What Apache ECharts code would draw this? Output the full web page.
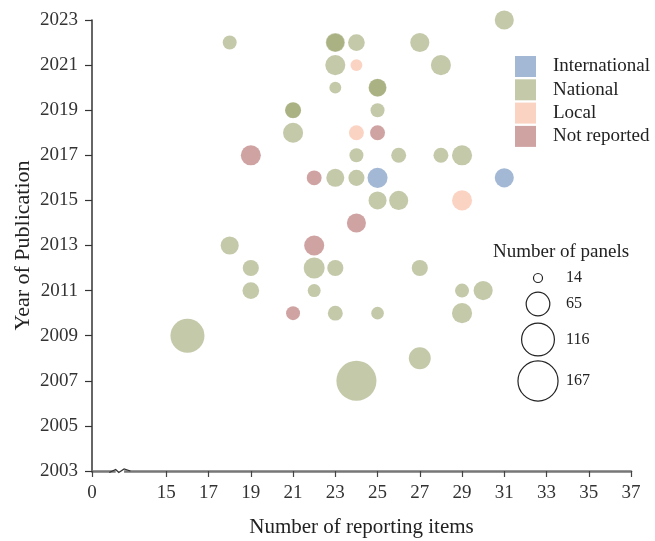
<!DOCTYPE html>
<html>
<head>
<meta charset="utf-8">
<script src="https://cdn.jsdelivr.net/npm/echarts@6/dist/echarts.min.js"></script>
<style>
html,body{margin:0;padding:0;background:#fff;}
#chart{width:655px;height:541px;}
</style>
</head>
<body>
<div id="chart"></div>
<script>
// [reporting items, year, number of panels]
const internationalData = [[25,2016,49],[31,2016,45]];
const nationalData = [
  [31,2023,45],[18,2022,27],[23,2022,45],[23,2022,40],[24,2022,36],[27,2022,45],
  [23,2021,49],[28,2021,49],[23,2020,21],[25,2020,41],[25,2020,38],
  [21,2019,34],[21,2019,32],[25,2019,27],[21,2018,49],
  [24,2017,27],[26,2017,30],[28,2017,30],[29,2017,49],
  [23,2016,41],[24,2016,34],[25,2015,41],[26,2015,45],
  [18,2013,41],[19,2012,34],[22,2012,53],[23,2012,34],[27,2012,34],
  [19,2011,36],[22,2011,24],[29,2011,27],[30,2011,45],
  [23,2010,30],[25,2010,23],[29,2010,49],[16,2009,124],[27,2008,57],[24,2007,167]
];
const localData = [[24,2021,21],[24,2018,30],[29,2015,49]];
const notReportedData = [[25,2018,30],[19,2017,49],[22,2016,30],[24,2014,45],[22,2013,49],[21,2010,27]];

const categories = ['International','National','Local','Not reported'];
const xTickValues = [0,15,17,19,21,23,25,27,29,31,33,35,37];
const yTickValues = [2003,2005,2007,2009,2011,2013,2015,2017,2019,2021,2023];
const sizeLegendValues = [14,65,116,167];

const X_ZERO_POS = 11.48; // where the "0" label sits after the axis break
const FONT = "'Liberation Serif','Times New Roman',serif";
const colors = ['rgba(91,128,178,0.7)','rgba(149,159,102,0.7)','rgba(248,176,148,0.7)','rgba(171,91,91,0.7)'];

function diam(n){ return 2*(1.69*Math.sqrt(n)-1.8); }
function xPos(v){ return v === 0 ? X_ZERO_POS : v; }

const dataSets = [internationalData, nationalData, localData, notReportedData];
const series = categories.map((name,i)=>({
  name: name,
  type: 'scatter',
  data: dataSets[i].map(d=>[d[0],d[1],d[2]]),
  symbolSize: function(v){ return diam(v[2]); },
  itemStyle: { color: colors[i], borderWidth: 0 },
  emphasis: { disabled: true },
  z: 2
}));

const chart = echarts.init(document.getElementById('chart'), null, {renderer:'canvas'});
const xCustom = xTickValues.map(xPos);

const option = {
  animation: false,
  backgroundColor: '#fff',
  grid: { left: 92, right: 24, top: 20, bottom: 70, containLabel: false, outerBoundsMode: 'none' },
  xAxis: {
    type: 'value', min: X_ZERO_POS, max: 37,
    name: 'Number of reporting items', nameLocation: 'middle', nameGap: 46, nameMoveOverlap: false,
    nameTextStyle: { fontFamily: FONT, fontSize: 21, color: '#222' },
    axisLine: { show: true, lineStyle: { color: '#777', width: 2.5 } },
    axisTick: { show: true, customValues: xCustom, length: 6, lineStyle: { color: '#444', width: 1.2 } },
    axisLabel: { customValues: xCustom, margin: 13, fontFamily: FONT, fontSize: 19, color: '#333',
      formatter: function(v){ return v < 14 ? '0' : String(Math.round(v)); } },
    splitLine: { show: false }
  },
  yAxis: {
    type: 'value', min: 2003, max: 2023,
    name: 'Year of Publication', nameLocation: 'middle', nameGap: 58, nameMoveOverlap: false,
    nameTextStyle: { fontFamily: FONT, fontSize: 22, color: '#222' },
    axisLine: { show: true, lineStyle: { color: '#333', width: 1.5 } },
    axisTick: { show: true, customValues: yTickValues, length: 7, lineStyle: { color: '#333', width: 1.2 } },
    axisLabel: { customValues: yTickValues, margin: 14, fontFamily: FONT, fontSize: 19, color: '#333',
      formatter: function(v){ return String(Math.round(v)); } },
    splitLine: { show: false }
  },
  legend: {
    data: categories, orient: 'vertical', left: 510, top: 51,
    icon: 'rect', itemWidth: 21, itemHeight: 21, itemGap: 2.3,
    textStyle: { fontFamily: FONT, fontSize: 19, color: '#222', padding: [0,0,0,12] },
    selectedMode: false
  },
  series: series
};
chart.setOption(option);

// size legend + axis break mark
const sizeY = [278, 304, 339.5, 381];
const g = [];
g.push({ type: 'text', left: 493, top: 243, style: { text: 'Number of panels', font: '19px ' + FONT, fill: '#222' } });
sizeLegendValues.forEach((n,i)=>{
  g.push({ type: 'circle', shape: { cx: 538, cy: sizeY[i], r: diam(n)/2 }, style: { fill: '#fff', stroke: '#222', lineWidth: 1.2 } });
  g.push({ type: 'text', x: 566, y: sizeY[i], style: { text: String(n), font: '16px ' + FONT, fill: '#222', verticalAlign: 'middle' } });
});
const a = chart.convertToPixel({xAxisIndex:0, yAxisIndex:0}, [12.3, 2003]);
const b = chart.convertToPixel({xAxisIndex:0, yAxisIndex:0}, [13.3, 2003]);
const w = b[0]-a[0];
g.push({ type: 'rect', shape: { x: a[0]+w*0.3, y: a[1]-3, width: w*0.4, height: 6 }, style: { fill: '#fff' }, z: 10 });
g.push({ type: 'polyline', shape: { points: [[a[0],a[1]+1.5],[a[0]+w*0.3,a[1]-1.5],[a[0]+w*0.45,a[1]+1.5],[a[0]+w*0.7,a[1]-2],[b[0],a[1]]] },
  style: { stroke: '#333', lineWidth: 1.3, fill: null }, z: 11 });
chart.setOption({ graphic: g });
</script>
</body>
</html>
